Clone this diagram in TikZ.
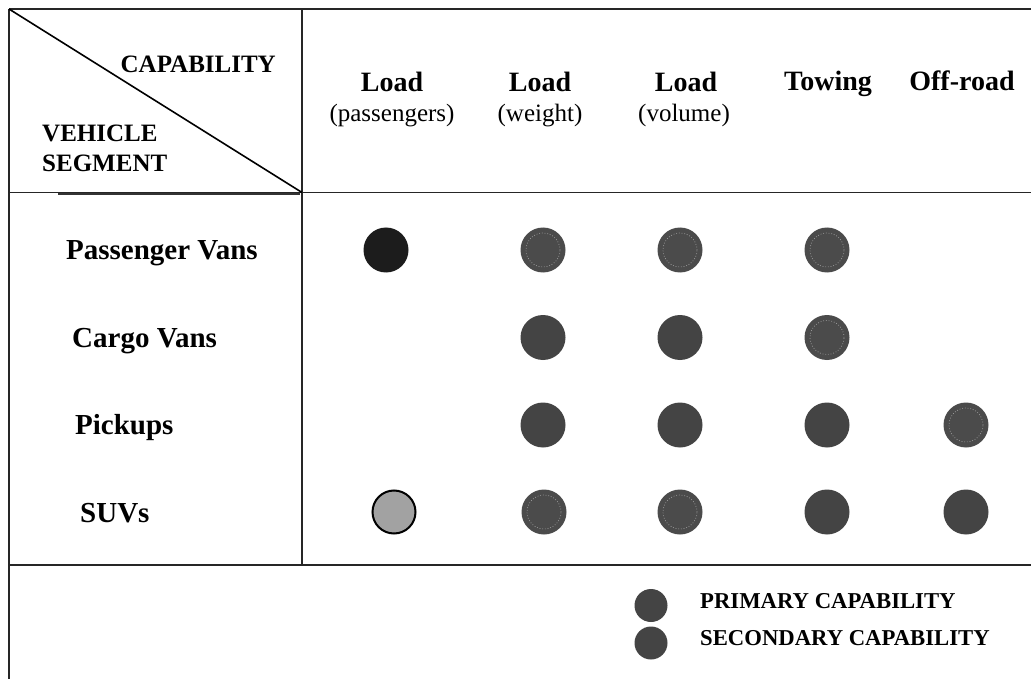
\documentclass[tikz,border=0pt]{standalone}
\usepackage{fontspec}
\setmainfont{Liberation Serif}
\definecolor{primgray}{HTML}{444444}
\definecolor{secgray}{HTML}{4B4B4B}
\definecolor{blackdot}{HTML}{1C1C1C}
\definecolor{lightdot}{HTML}{A2A2A2}
\begin{document}
\begin{tikzpicture}[x=1pt,y=-1pt,
  rule/.style={line width=1.8pt, black!85},
  hdr/.style={font=\fontsize{28}{30}\selectfont\bfseries, inner sep=0, anchor=base},
  sub/.style={font=\fontsize{25}{28}\selectfont, inner sep=0, anchor=base},
  corner/.style={font=\fontsize{25}{28}\selectfont\bfseries, inner sep=0, anchor=base west},
  rowlab/.style={font=\fontsize{29}{31}\selectfont\bfseries, inner sep=0, anchor=base west},
  legtxt/.style={font=\fontsize{22.7}{25}\selectfont\bfseries, inner sep=0, anchor=base west},
  dot/.style={circle, minimum size=45pt, inner sep=0},
  prim/.style={dot, fill=primgray},
  sec/.style={dot, fill=secgray, path picture={\draw[gray!70, line width=0.7pt, dotted] (path picture bounding box.center) circle[radius=17pt];}},
  full/.style={dot, fill=blackdot},
  light/.style={dot, fill=lightdot, draw=black, line width=2pt, minimum size=43pt},
  legdot/.style={circle, minimum size=33pt, inner sep=0, fill=primgray}
]
\useasboundingbox (0,0) rectangle (1031,679);
\fill[white] (0,0) rectangle (1031,679);

% coordinates of the grid
\coordinate (tl) at (9,9);
\coordinate (tr) at (1031,9);
\coordinate (tm) at (302,9);
\coordinate (ml) at (9,192.5);
\coordinate (mm) at (302,192.5);
\coordinate (mr) at (1031,192.5);
\coordinate (bl) at (9,565);
\coordinate (bm) at (302,565);
\coordinate (br) at (1031,565);
\coordinate (ll) at (9,679);
\coordinate (tk1) at (58,194);
\coordinate (tk2) at (300,194);

\draw[rule] (tl) -- (tr);
\draw[rule] (tl) -- (ll);
\draw[rule] (tm) -- (bm);
\draw[rule] (ml) -- (mr);
\draw[line width=2.6pt, black!80] (tk1) -- (tk2);
\draw[rule] (bl) -- (br);
\draw[line width=1.6pt] (tl) -- (mm);

% corner labels
\node[font=\fontsize{25}{28}\selectfont\bfseries, inner sep=0, anchor=base east] (cap) at (276,73) {CAPABILITY};
\node[corner] (veh) at (42,142) {VEHICLE};
\node[corner] (seg) at (42,172) {SEGMENT};

% column headers
\node[hdr] (h1) at (392,92) {Load};
\node[sub] (s1) at (392,122) {(passengers)};
\node[hdr] (h2) at (540,92) {Load};
\node[sub] (s2) at (540,122) {(weight)};
\node[hdr] (h3) at (686,92) {Load};
\node[sub] (s3) at (684,122) {(volume)};
\node[hdr] (h4) at (828,91) {Towing};
\node[hdr] (h5) at (962,91) {Off-road};

% row labels
\node[rowlab] (r1) at (66,259) {Passenger Vans};
\node[rowlab] (r2) at (72,347) {Cargo Vans};
\node[rowlab] (r3) at (75,434) {Pickups};
\node[rowlab] (r4) at (80,522) {SUVs};

% dots
\node[full] (d11) at (386,250) {};
\node[sec]  (d12) at (543,250) {};
\node[sec]  (d13) at (680,250) {};
\node[sec]  (d14) at (827,250) {};

\node[prim] (d22) at (543,337.5) {};
\node[prim] (d23) at (680,337.5) {};
\node[sec]  (d24) at (827,337.5) {};

\node[prim] (d32) at (543,425) {};
\node[prim] (d33) at (680,425) {};
\node[prim] (d34) at (827,425) {};
\node[sec]  (d35) at (966,425) {};

\node[light] (d41) at (394,512) {};
\node[sec]  (d42) at (544,512) {};
\node[sec]  (d43) at (680,512) {};
\node[prim] (d44) at (827,512) {};
\node[prim] (d45) at (966,512) {};

% legend
\node[legdot] (lp) at (651,605.5) {};
\node[legdot] (ls) at (651,643) {};
\node[legtxt] (lpt) at (700,608) {PRIMARY CAPABILITY};
\node[legtxt] (lst) at (700,645) {SECONDARY CAPABILITY};
\end{tikzpicture}
\end{document}
